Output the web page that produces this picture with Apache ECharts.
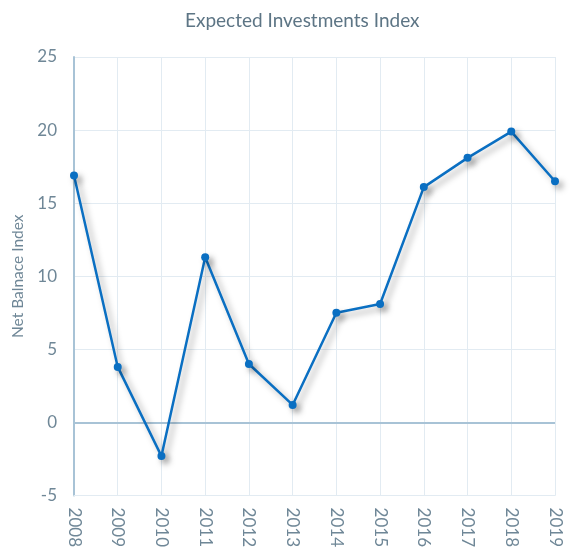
<!DOCTYPE html>
<html>
<head>
<meta charset="utf-8">
<script src="https://cdn.jsdelivr.net/npm/echarts@6/dist/echarts.min.js"></script>
<style>
  html, body { margin: 0; padding: 0; background: #ffffff; }
  #chart { width: 573px; height: 550px; }
</style>
</head>
<body>
<div id="chart"></div>
<script>
// Survey years and net balance readings
const years = ['2008', '2009', '2010', '2011', '2012', '2013', '2014', '2015', '2016', '2017', '2018', '2019'];
const netBalance = [16.9, 3.8, -2.3, 11.3, 4.0, 1.2, 7.5, 8.1, 16.1, 18.1, 19.9, 16.5];
const yTicks = [-5, 0, 5, 10, 15, 20, 25];

const textColor = '#6f8797';
const gridColor = '#e2ebf2';
const axisColor = '#a8c3d6';
const fontFam = 'Lato, "Open Sans", sans-serif';

const chart = echarts.init(document.getElementById('chart'));
chart.setOption({
  animation: false,
  title: {
    text: 'Expected Investments Index',
    left: 180,
    top: 6,
    textStyle: { color: '#5d7585', fontSize: 19, fontWeight: 'normal', fontFamily: fontFam }
  },
  grid: { left: 74, right: 18, top: 57, bottom: 53 },
  xAxis: {
    type: 'category',
    data: years,
    boundaryGap: false,
    axisLine: { onZero: false, lineStyle: { color: gridColor, width: 1 } },
    axisTick: { show: false },
    axisLabel: {
      rotate: -90,
      margin: 12,
      color: textColor,
      fontSize: 17,
      fontFamily: fontFam
    },
    splitLine: { show: true, lineStyle: { color: gridColor, width: 1 } }
  },
  yAxis: {
    type: 'value',
    min: yTicks[0],
    max: yTicks[yTicks.length - 1],
    interval: 5,
    name: 'Net Balnace Index',
    nameLocation: 'middle',
    nameGap: 44,
    nameTextStyle: { color: textColor, fontSize: 15.5, fontFamily: fontFam },
    axisLine: { show: true, lineStyle: { color: axisColor, width: 2 } },
    axisTick: { show: false },
    axisLabel: { color: textColor, fontSize: 17, margin: 17, fontFamily: fontFam },
    splitLine: { show: true, lineStyle: { color: gridColor, width: 1 } }
  },
  series: [{
    type: 'line',
    data: netBalance,
    symbol: 'circle',
    symbolSize: 8,
    z: 5,
    lineStyle: {
      color: '#0a6fc2',
      width: 2.5,
      shadowColor: 'rgba(0,0,0,0.35)',
      shadowBlur: 6,
      shadowOffsetX: 4,
      shadowOffsetY: 4
    },
    itemStyle: {
      color: '#0a6fc2',
      shadowColor: 'rgba(0,0,0,0.35)',
      shadowBlur: 6,
      shadowOffsetX: 4,
      shadowOffsetY: 4
    },
    markLine: {
      silent: true,
      symbol: 'none',
      label: { show: false },
      lineStyle: { color: axisColor, width: 2, type: 'solid' },
      data: [{ yAxis: 0 }],
      z: 1
    }
  }]
});
</script>
</body>
</html>
